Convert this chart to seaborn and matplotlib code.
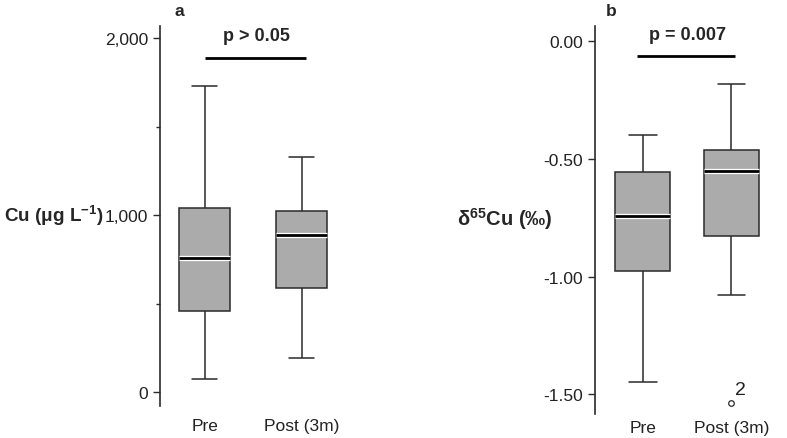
import numpy as np
import pandas as pd
import seaborn as sns
import matplotlib.pyplot as plt
import matplotlib.patheffects as pe
from matplotlib.ticker import FuncFormatter, MultipleLocator

# Box summaries: whisker low, Q1, median, Q3, whisker high
groups = ["Pre", "Post (3m)"]
cu_pre = [73, 458, 757, 1040, 1727]
cu_post = [192, 589, 889, 1024, 1328]
d65_pre = [-1.450, -0.975, -0.741, -0.556, -0.400]
d65_post = [-1.077, -0.829, -0.550, -0.461, -0.181]
d65_post_outliers = [-1.537]
outlier_labels = ["2"]


def sample(summary, outliers=()):
    # repeat each summary value so the quartiles land exactly on it
    return list(np.repeat(summary, 4)) + list(outliers)


def make_df(pre, post):
    rows = [(groups[0], v) for v in pre] + [(groups[1], v) for v in post]
    return pd.DataFrame(rows, columns=["group", "value"])


df_cu = make_df(sample(cu_pre), sample(cu_post))
df_d65 = make_df(sample(d65_pre), sample(d65_post, d65_post_outliers))

sns.set_style("white")
plt.rcParams['font.family'] = ['Liberation Sans', 'DejaVu Sans']
plt.rcParams['font.size'] = 12.5
plt.rcParams['mathtext.fontset'] = 'custom'
plt.rcParams['mathtext.rm'] = 'Liberation Sans'
plt.rcParams['mathtext.bf'] = 'Liberation Sans:bold'

W, H = 787, 439
fig = plt.figure(figsize=(W / 100, H / 100), dpi=100)

dark = "#2a2a2a"
box_kw = dict(x="group", y="value", order=groups, color="#ababab", saturation=1,
              linecolor=dark, linewidth=1.1, fliersize=4,
              flierprops=dict(marker="o", markerfacecolor="none",
                              markeredgecolor=dark, markeredgewidth=0.9))


def style_axis(ax, pad):
    for s in ["top", "right", "bottom"]:
        ax.spines[s].set_visible(False)
    ax.spines["left"].set_color(dark)
    ax.spines["left"].set_linewidth(1.2)
    ax.tick_params(axis="x", length=0, pad=pad, labelsize=12.5, colors="#222222")
    ax.tick_params(axis="y", which="major", direction="out", length=5, width=1,
                   color=dark, labelsize=12.5, labelcolor="#222222", left=True)
    ax.tick_params(axis="y", which="minor", direction="out", length=3, width=1,
                   color=dark, left=True)
    ax.set_xlabel("")
    for line in ax.lines:
        # thin white halo round the medians
        if len(line.get_xdata()) == 2 and line.get_linewidth() > 1.5:
            line.set_path_effects([pe.Stroke(linewidth=3.8, foreground="white"), pe.Normal()])


# ---- panel a ----
ax1 = fig.add_axes([160 / W, 1 - 407 / H, 195 / W, 380 / H])
sns.boxplot(data=df_cu, ax=ax1, width=0.52, whis=1.5,
            medianprops=dict(color="black", linewidth=2), **box_kw)
ax1.set_xlim(-0.46, 1.55)
ax1.set_ylim(-79, 2068)
ax1.yaxis.set_major_locator(MultipleLocator(1000))
ax1.yaxis.set_minor_locator(MultipleLocator(500))
ax1.yaxis.set_major_formatter(FuncFormatter(lambda v, p: f"{v:,.0f}"))
style_axis(ax1, pad=9)
ax1.set_ylabel("Cu (μg L$^{\\mathbf{-1}}$)", rotation=0, fontweight="bold",
               fontsize=13.6, ha="center", va="center")
ax1.yaxis.set_label_coords(-0.545, 0.503)
ax1.plot([0, 1.05], [1887, 1887], color="black", lw=2, solid_capstyle="butt")
ax1.text(0.53, 2017, "p > 0.05", ha="center", va="center", fontweight="bold", fontsize=13)

# ---- panel b ----
ax2 = fig.add_axes([595 / W, 1 - 415 / H, 185 / W, 388 / H])
sns.boxplot(data=df_d65, ax=ax2, width=0.62, whis=1.5,
            medianprops=dict(color="black", linewidth=2), **box_kw)
ax2.set_xlim(-0.54, 1.55)
ax2.set_ylim(-1.584, 0.064)
ax2.yaxis.set_major_locator(MultipleLocator(0.5))
ax2.yaxis.set_major_formatter(FuncFormatter(lambda v, p: f"{v:.2f}"))
style_axis(ax2, pad=4)
ax2.set_ylabel("δ$^{\\mathbf{65}}$Cu (‰)", rotation=0, fontweight="bold",
               fontsize=14.5, ha="center", va="center")
ax2.yaxis.set_label_coords(-0.49, 0.505)
ax2.plot([-0.06, 1.04], [-0.062, -0.062], color="black", lw=2, solid_capstyle="butt")
ax2.text(0.5, 0.03, "p = 0.007", ha="center", va="center", fontweight="bold", fontsize=13)
for v, lab in zip(d65_post_outliers, outlier_labels):
    ax2.text(1.1, v + 0.055, lab, ha="center", va="center", fontsize=14, color="#222222")

fig.text(179 / W, 1 - 11 / H, "a", ha="center", va="center", fontweight="bold", fontsize=12.5)
fig.text(611 / W, 1 - 11 / H, "b", ha="center", va="center", fontweight="bold", fontsize=12.5)

fig.savefig("out.png", dpi=100)
